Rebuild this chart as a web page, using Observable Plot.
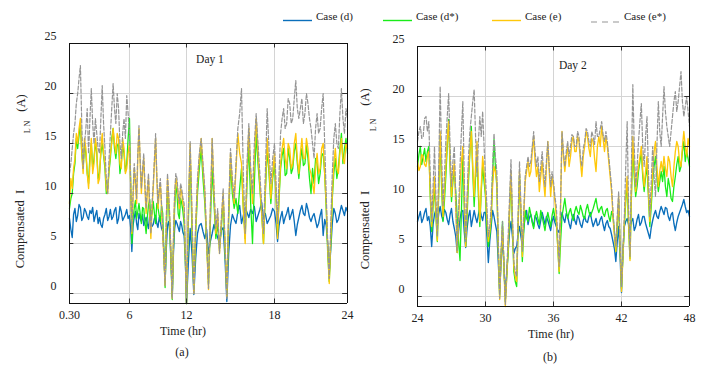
<!DOCTYPE html>
<html><head><meta charset="utf-8">
<script src="https://cdn.jsdelivr.net/npm/d3@7"></script>
<script src="https://cdn.jsdelivr.net/npm/@observablehq/plot@0.6"></script>
<style>
body{margin:0;background:#fff;}
#wrap{position:relative;width:705px;height:372px;overflow:hidden;background:#fff;font-family:"Liberation Serif","Times New Roman",serif;color:#222;}
.abs{position:absolute;white-space:nowrap;line-height:1;transform:translate(-50%,-50%);}
.rot{transform:translate(-50%,-50%) rotate(-90deg);}
.host{position:absolute;top:0;width:355px;height:372px;}
.host svg text{font-family:"Liberation Serif","Times New Roman",serif;}
</style></head><body>
<div id="wrap">
  <svg id="legend" width="705" height="30" style="position:absolute;left:0;top:0"></svg>
  <div class="host" id="p1" style="left:0"></div>
  <div class="host" id="p2" style="left:350px"></div>
  <div class="abs rot" style="left:20px;top:229px;font-size:12.5px">Compensated&nbsp;&nbsp;I</div>
  <div class="abs rot" style="left:28px;top:127px;font-size:8px">L N</div>
  <div class="abs rot" style="left:21px;top:103px;font-size:12.5px">(A)</div>
  <div class="abs rot" style="left:365px;top:230px;font-size:12.5px">Compensated&nbsp;&nbsp;I</div>
  <div class="abs rot" style="left:374px;top:125px;font-size:8px">L N</div>
  <div class="abs rot" style="left:365px;top:97px;font-size:12.5px">(A)</div>
  <div class="abs" style="left:183px;top:331px;font-size:12px">Time (hr)</div>
  <div class="abs" style="left:182px;top:352px;font-size:12px">(a)</div>
  <div class="abs" style="left:551px;top:334px;font-size:12px">Time (hr)</div>
  <div class="abs" style="left:550px;top:357px;font-size:12px">(b)</div>
</div>
<script>
// ---------- data (readings every 7.5 min) ----------
const seriesNames = ["Case (d)", "Case (d*)", "Case (e)", "Case (e*)"];
const day1Start = 0.5, day2Start = 24, sampleStep = 0.125; // hours

const day1_d = [
  7.5, 6.4, 5.6, 7.9, 8.5, 7.2, 7.8, 8.9, 8.6, 7.3, 7.6, 8.5, 8.2, 7.7, 7.4, 8.3,
  8.0, 8.6, 7.2, 7.8, 8.3, 7.0, 7.6, 6.9, 6.6, 7.5, 7.9, 8.5, 7.3, 7.7, 8.4, 7.4,
  7.7, 8.3, 8.6, 7.0, 7.5, 8.7, 8.2, 7.3, 7.6, 7.9, 8.4, 7.5, 7.8, 6.6, 4.2, 6.8,
  7.6, 8.2, 7.0, 6.4, 8.0, 7.5, 7.2, 7.9, 6.8, 7.2, 7.6, 7.0, 6.5, 7.8, 7.4, 6.7,
  6.9, 7.5, 7.8, 7.0, 6.6, 7.6, 7.2, 6.5, 6.2, 4.0, 1.2, 4.5, 6.8, 7.2, 6.0, 3.0,
  -0.3, 4.0, 6.5, 7.3, 7.0, 6.6, 6.2, 7.2, 6.8, 6.1, 5.8, 3.5, -1.0, 3.0, 6.5, 4.0,
  -0.1, 3.5, 6.0, 6.8, 7.0, 6.2, 5.5, 6.4, 4.0, 5.2, 6.0, 6.9, 6.2, 5.6, 5.0, 6.3,
  6.6, 3.5, -0.8, 4.0, 6.8, 7.9, 7.4, 7.0, 8.2, 8.8, 7.0, 7.8, 8.6, 8.1, 7.6, 8.4,
  8.0, 8.7, 7.2, 7.8, 8.4, 9.1, 7.5, 8.0, 7.0, 7.4, 7.8, 8.5, 8.2, 7.0, 5.2, 6.8,
  7.6, 8.2, 7.0, 7.6, 8.0, 8.6, 7.4, 7.9, 8.4, 7.2, 5.8, 6.9, 7.6, 8.3, 8.8, 8.0,
  7.8, 9.0, 8.4, 7.6, 7.2, 7.7, 8.0, 7.3, 6.6, 7.0, 7.8, 8.4, 5.8, 7.4, 6.8, 5.0,
  2.0, 4.5, 7.0, 8.5, 8.0, 7.1, 7.4, 8.1, 8.8, 8.3, 7.8, 8.6, 8.2];
const day1_dStar = [
  8.5, 9.5, 10.0, 12.0, 13.0, 15.5, 14.5, 15.8, 17.0, 14.0, 12.5, 15.0, 14.0, 12.0, 11.0, 13.8,
  15.0, 12.5, 13.5, 15.2, 14.0, 11.5, 12.0, 14.0, 15.0, 13.8, 12.5, 10.0, 10.5, 12.2, 13.5, 15.5,
  16.5, 14.5, 13.5, 14.8, 15.0, 12.0, 13.0, 14.8, 14.0, 12.2, 13.0, 15.5, 17.5, 11.0, 5.0, 7.5,
  8.5, 9.3, 7.5, 8.2, 9.0, 8.0, 7.0, 8.6, 8.5, 7.2, 6.0, 7.6, 8.8, 9.4, 7.5, 8.0,
  9.2, 8.0, 7.0, 9.0, 8.6, 7.8, 7.2, 8.8, 8.0, 4.0, 0.6, 6.0, 10.5, 8.8, 6.5, 3.0,
  -0.6, 4.5, 8.5, 10.8, 10.0, 8.0, 7.5, 9.5, 9.0, 8.2, 7.0, 3.5, -1.0, 7.0, 14.0, 6.0,
  0.5, 6.0, 10.0, 12.5, 14.5, 11.5, 9.0, 5.0, 1.0, 7.0, 12.5, 9.0, 5.5, 7.0, 4.5, 6.5,
  9.5, 4.5, 0.0, 7.5, 13.0, 10.0, 8.5, 9.5, 8.0, 10.5, 12.5, 8.5, 5.5, 11.0, 15.0, 9.0,
  5.0, 11.0, 16.0, 13.0, 10.5, 8.0, 5.0, 10.0, 14.5, 12.0, 9.0, 11.5, 13.0, 9.5, 6.0, 9.5,
  12.5, 13.8, 14.5, 11.8, 12.0, 14.5, 13.5, 12.0, 12.5, 14.2, 15.0, 13.0, 11.5, 13.2, 14.5, 12.8,
  13.0, 14.8, 13.5, 11.5, 10.0, 12.5, 11.0, 13.5, 13.0, 11.0, 12.0, 13.8, 14.0, 12.0, 8.5, 4.0,
  1.2, 5.0, 9.5, 12.0, 13.5, 11.5, 12.5, 14.5, 16.0, 13.0, 14.5, 15.5, 14.0];
const day1_e = [
  9.0, 11.5, 10.5, 12.5, 13.5, 16.0, 15.0, 16.5, 17.5, 14.0, 12.0, 15.5, 14.5, 12.0, 10.5, 13.0,
  15.5, 12.0, 13.0, 15.5, 14.5, 11.0, 11.5, 14.5, 16.0, 14.0, 13.0, 10.5, 10.0, 12.5, 14.0, 15.0,
  16.5, 15.0, 14.0, 16.0, 15.5, 13.0, 12.5, 15.5, 14.5, 12.0, 12.5, 14.0, 15.0, 11.0, 6.0, 9.5,
  12.5, 11.0, 9.0, 13.5, 16.5, 13.0, 10.0, 12.0, 13.5, 10.5, 8.0, 10.0, 11.5, 8.0, 5.5, 8.5,
  10.5, 13.0, 15.5, 11.5, 8.5, 10.0, 11.0, 8.5, 6.0, 3.5, 0.8, 7.0, 11.5, 9.5, 7.0, 3.5,
  -0.5, 5.0, 9.5, 11.5, 11.0, 9.5, 8.5, 10.5, 10.0, 9.0, 8.5, 4.0, -1.0, 8.0, 15.0, 7.5,
  0.0, 6.5, 11.0, 13.5, 15.5, 12.5, 10.0, 5.0, 0.4, 8.0, 15.5, 10.0, 6.0, 8.0, 4.0, 7.0,
  10.0, 5.0, -0.3, 8.0, 14.0, 11.0, 9.0, 12.5, 16.0, 14.0, 13.0, 8.5, 5.0, 12.0, 16.5, 12.0,
  9.0, 13.5, 17.5, 14.0, 11.0, 8.0, 5.0, 10.5, 15.5, 12.5, 9.5, 12.0, 14.0, 10.0, 5.5, 10.0,
  13.0, 14.5, 15.5, 13.5, 12.5, 15.0, 14.5, 12.5, 13.0, 15.0, 16.0, 13.5, 12.0, 14.0, 15.5, 13.5,
  13.5, 15.5, 14.5, 12.5, 12.0, 11.0, 10.0, 12.5, 14.0, 12.0, 12.5, 14.5, 15.0, 12.0, 9.0, 4.5,
  1.0, 5.5, 10.0, 13.0, 14.5, 12.5, 12.0, 14.0, 15.5, 13.5, 13.0, 15.0, 14.5];
const day1_eStar = [
  12.0, 13.0, 14.5, 16.0, 17.0, 19.0, 20.0, 21.5, 22.8, 17.0, 12.5, 15.0, 16.5, 18.5, 14.0, 17.5,
  20.5, 17.0, 15.0, 17.5, 16.0, 14.5, 14.0, 17.5, 20.8, 17.0, 14.5, 11.5, 10.0, 13.5, 16.0, 18.5,
  21.0, 18.5, 17.0, 20.0, 18.5, 15.0, 13.5, 16.0, 17.5, 15.5, 19.8, 18.0, 16.0, 11.0, 6.2, 10.0,
  13.0, 11.5, 9.5, 14.0, 16.8, 13.5, 10.5, 12.5, 14.0, 11.0, 8.5, 10.5, 12.0, 9.0, 6.0, 9.0,
  11.0, 13.5, 16.0, 12.0, 9.0, 10.5, 11.5, 9.0, 6.5, 3.5, 0.8, 7.5, 12.0, 10.0, 7.5, 3.5,
  -0.5, 5.5, 10.0, 12.0, 11.5, 10.0, 9.0, 11.0, 10.5, 9.5, 9.0, 4.0, -1.0, 8.0, 15.2, 8.0,
  0.0, 7.0, 11.5, 14.0, 15.5, 13.0, 10.5, 5.5, 0.5, 8.5, 15.5, 10.5, 6.5, 8.5, 4.0, 7.5,
  10.5, 5.0, -0.5, 8.5, 14.5, 11.5, 9.5, 13.0, 16.5, 18.0, 20.5, 12.0, 6.0, 13.0, 17.0, 12.5,
  10.0, 15.0, 18.0, 15.0, 12.0, 9.0, 6.0, 12.0, 18.5, 14.5, 11.0, 13.5, 15.0, 11.0, 7.0, 12.0,
  16.0, 17.5, 18.5, 16.5, 17.0, 19.5, 19.0, 17.0, 17.5, 19.5, 21.3, 18.5, 17.5, 18.5, 19.5, 17.0,
  18.0, 20.0, 19.0, 17.5, 16.5, 15.0, 13.5, 16.5, 18.0, 16.0, 16.5, 18.5, 20.0, 15.0, 10.0, 5.0,
  1.5, 7.0, 12.0, 15.5, 17.0, 15.0, 14.5, 18.0, 20.5, 17.5, 16.0, 18.5, 17.5];

const day2_d = [
  7.5, 8.0, 8.5, 7.4, 7.8, 8.4, 8.8, 7.6, 8.0, 7.0, 5.0, 7.2, 8.2, 8.7, 7.0, 8.3,
  9.0, 8.1, 7.6, 8.7, 8.4, 7.7, 7.2, 8.2, 8.8, 7.5, 6.8, 6.0, 4.4, 6.5, 7.8, 8.5,
  8.6, 6.5, 4.9, 6.8, 8.0, 8.6, 7.0, 7.8, 8.6, 7.9, 7.4, 8.2, 8.8, 8.1, 7.6, 8.4,
  8.4, 6.0, 3.4, 5.5, 7.0, 8.6, 8.0, 7.2, 6.5, 3.5, 0.5, 3.5, 6.0, 3.0, 0.0, 2.5,
  4.5, 6.5, 7.5, 6.0, 4.3, 4.8, 5.0, 6.2, 7.0, 6.0, 5.0, 6.8, 8.0, 8.6, 7.2, 7.9,
  8.2, 7.5, 7.0, 8.1, 7.8, 7.2, 6.8, 7.6, 8.4, 7.8, 7.2, 8.0, 7.6, 7.1, 6.6, 7.5,
  8.0, 7.4, 7.0, 6.6, 6.4, 7.5, 8.4, 7.8, 7.4, 8.3, 8.0, 7.3, 6.8, 7.7, 8.2, 7.6,
  7.2, 8.1, 7.8, 7.2, 6.9, 7.6, 8.0, 7.5, 7.4, 8.0, 8.4, 7.6, 7.0, 7.4, 7.8, 7.1,
  7.2, 7.7, 8.0, 7.2, 6.6, 7.3, 7.6, 7.0, 6.8, 6.2, 5.5, 4.8, 3.5, 5.5, 7.0, 4.0,
  0.4, 4.5, 7.0, 7.5, 7.8, 7.2, 6.8, 7.5, 7.8, 6.6, 7.0, 7.7, 8.2, 7.1, 7.4, 8.0,
  8.0, 7.3, 6.8, 6.3, 5.8, 6.9, 7.6, 8.2, 8.6, 8.0, 7.8, 8.5, 9.0, 8.6, 8.2, 8.9,
  8.8, 8.0, 7.6, 8.2, 8.4, 7.3, 6.6, 7.4, 8.0, 8.4, 8.8, 9.2, 9.7, 9.0, 8.4, 8.6,
  8.0];
const day2_dStar = [
  13.0, 14.2, 15.0, 13.2, 14.0, 14.8, 13.5, 14.5, 15.0, 10.0, 6.5, 9.0, 11.0, 8.0, 5.5, 10.5,
  16.0, 11.0, 7.5, 9.5, 12.0, 15.0, 17.7, 13.0, 9.5, 11.5, 12.5, 10.5, 8.0, 5.5, 3.6, 8.5,
  14.0, 9.0, 5.0, 8.0, 11.5, 14.5, 17.0, 12.5, 9.0, 12.0, 14.5, 10.0, 7.0, 10.5, 13.0, 11.5,
  10.0, 7.0, 5.0, 6.0, 7.5, 12.0, 15.7, 13.0, 11.0, 5.0, 0.0, 4.0, 7.5, 3.0, -0.5, 2.0,
  4.5, 8.5, 12.0, 7.0, 2.5, 1.5, 1.0, 7.0, 12.0, 8.0, 3.5, 6.5, 8.6, 7.8, 7.5, 8.9,
  8.2, 7.4, 6.8, 7.9, 8.5, 7.8, 7.2, 8.6, 8.0, 7.3, 6.6, 7.7, 8.4, 7.7, 7.0, 8.1,
  8.8, 7.9, 7.4, 5.0, 2.3, 5.5, 8.0, 8.9, 9.8, 8.6, 7.8, 8.4, 8.8, 8.1, 7.6, 8.5,
  9.0, 8.5, 8.2, 9.1, 8.6, 8.0, 7.8, 8.7, 9.2, 8.5, 8.0, 8.4, 8.8, 9.3, 9.8, 8.9,
  8.4, 8.8, 9.0, 8.3, 8.0, 8.6, 8.8, 8.0, 7.5, 8.5, 8.0, 6.5, 4.5, 7.0, 9.5, 5.0,
  0.8, 4.0, 7.0, 9.5, 11.5, 7.0, 3.8, 10.0, 15.0, 12.0, 10.0, 11.0, 12.5, 13.5, 14.5, 12.0,
  10.5, 12.0, 13.0, 10.0, 7.0, 9.0, 11.5, 13.0, 14.0, 12.0, 10.5, 11.5, 12.5, 11.5, 13.0, 11.0,
  10.0, 11.8, 11.0, 9.8, 9.5, 11.0, 12.0, 13.2, 14.0, 12.5, 13.0, 14.5, 15.5, 13.5, 14.5, 13.8,
  13.0];
const day2_e = [
  13.5, 12.6, 13.0, 14.2, 14.0, 13.2, 13.0, 14.0, 14.5, 10.5, 7.0, 9.5, 12.0, 8.5, 5.6, 11.0,
  16.5, 12.0, 8.0, 10.5, 13.0, 15.5, 17.5, 13.5, 10.0, 12.0, 13.5, 9.0, 4.4, 7.5, 11.0, 13.5,
  15.0, 10.0, 5.0, 9.0, 12.5, 14.5, 16.5, 13.0, 10.0, 13.0, 15.5, 11.0, 7.5, 11.0, 14.0, 12.5,
  10.5, 8.0, 5.5, 6.5, 8.0, 11.0, 13.0, 12.5, 11.5, 5.0, -0.3, 4.0, 7.0, 3.0, -1.0, 2.0,
  5.0, 9.0, 12.5, 7.5, 3.0, 2.0, 1.5, 7.0, 12.5, 8.5, 4.0, 8.0, 11.5, 12.5, 13.5, 12.0,
  12.5, 14.5, 16.0, 13.5, 12.0, 13.0, 10.5, 12.0, 13.5, 11.5, 10.0, 13.0, 15.5, 12.5, 10.0, 12.0,
  11.0, 9.5, 8.0, 5.0, 2.5, 9.0, 16.5, 14.0, 12.5, 14.0, 15.0, 13.0, 14.0, 15.5, 16.0, 14.5,
  14.5, 16.0, 15.5, 13.5, 12.0, 14.0, 15.0, 16.5, 16.0, 14.8, 14.0, 15.8, 15.5, 13.8, 12.5, 15.0,
  16.0, 15.0, 17.0, 15.8, 14.5, 16.0, 15.0, 13.5, 12.0, 10.5, 8.0, 6.0, 4.5, 7.5, 10.0, 5.0,
  0.5, 4.0, 7.5, 10.0, 12.0, 7.5, 3.6, 10.5, 16.0, 13.0, 10.5, 12.0, 13.0, 14.0, 15.0, 12.5,
  11.0, 12.5, 14.0, 10.5, 7.5, 10.0, 12.5, 14.5, 15.5, 13.0, 11.0, 12.5, 13.5, 12.5, 14.0, 12.8,
  12.0, 14.0, 13.5, 12.0, 11.0, 13.0, 14.5, 15.5, 15.0, 13.5, 13.0, 15.0, 16.5, 15.0, 14.0, 15.8,
  15.0];
const day2_eStar = [
  15.5, 16.5, 17.0, 15.8, 16.0, 17.8, 18.0, 16.5, 17.5, 12.0, 7.5, 11.0, 15.0, 10.0, 6.0, 13.0,
  21.0, 14.5, 9.0, 12.0, 15.5, 18.0, 20.3, 15.0, 11.0, 13.5, 15.0, 10.0, 4.6, 8.5, 13.0, 16.5,
  19.5, 12.0, 5.5, 10.0, 14.0, 16.5, 18.0, 19.5, 20.7, 16.0, 12.0, 15.5, 18.0, 16.0, 18.5, 15.0,
  12.0, 9.0, 6.0, 7.0, 9.0, 13.0, 16.3, 14.0, 12.5, 5.5, -0.2, 4.5, 7.5, 3.5, -0.8, 2.5,
  6.0, 10.0, 13.7, 8.0, 3.5, 2.5, 2.0, 8.0, 13.5, 9.0, 4.5, 8.5, 12.0, 13.0, 14.0, 13.0,
  13.5, 15.0, 16.5, 14.5, 13.0, 14.0, 11.5, 13.0, 14.5, 12.5, 11.0, 13.5, 15.5, 13.0, 11.0, 12.5,
  11.5, 10.0, 9.0, 6.0, 3.0, 9.5, 16.5, 14.5, 13.0, 14.5, 15.5, 14.0, 15.0, 16.2, 16.0, 15.0,
  15.0, 16.5, 16.0, 14.0, 13.0, 14.8, 15.5, 16.8, 16.5, 15.5, 15.0, 16.5, 16.0, 15.2, 17.5, 16.0,
  16.0, 16.8, 17.5, 16.2, 15.5, 16.5, 15.5, 14.0, 12.5, 11.0, 8.5, 6.5, 5.0, 8.0, 10.5, 5.5,
  1.0, 4.5, 8.0, 13.0, 17.5, 9.0, 4.0, 13.0, 21.2, 15.0, 11.0, 13.0, 15.5, 17.5, 19.3, 15.0,
  13.0, 16.0, 18.0, 12.5, 8.0, 11.5, 15.0, 12.0, 10.0, 15.0, 19.5, 16.5, 15.0, 18.0, 21.0, 18.5,
  17.0, 16.0, 15.0, 16.5, 18.0, 19.5, 20.5, 18.5, 19.5, 21.0, 22.5, 19.5, 18.0, 19.0, 20.0, 18.5,
  17.0];

const yTicks = [0, 5, 10, 15, 20, 25];
const day1XTicks = [0.5, 6, 12, 18, 24];
const day1XLabels = ["0.30", "6", "12", "18", "24"];
// where the Day 1 tick labels sit along the (uneven) printed axis, in evenly spaced axis hours
const day1TickPlacement = [0.5, 5.57, 10.39, 17.83, 24];
const day2XTicks = [24, 30, 36, 42, 48];
const day2XLabels = ["24", "30", "36", "42", "48"];
const panelTitles = ["Day 1", "Day 2"];

// ---------- styles ----------
const colors = ["#0a6fbb", "#19ec19", "#ffc80a", "#959595"];
const widths = [1.35, 1.3, 1.35, 1.2];
const dashes = [null, null, null, "4,2"];
const FONT = '"Liberation Serif","Times New Roman",serif';

function toRows(start, arr) {
  return arr.map((v, i) => ({t: start + i * sampleStep, v}));
}

function panel(opts) {
  const {series, start, xTicks, xLabels, xDomain, xTransform, margins, title, titleX, titleY, tickDx, tickDy} = opts;
  const xMin = xDomain[0], xMax = xDomain[1];
  const marks = [
    Plot.ruleY(yTicks.filter(d => d < 25), {stroke: "#d4d4d4", strokeWidth: 1}),
    Plot.ruleX(xTicks.slice(1, -1), {stroke: "#d4d4d4", strokeWidth: 1})
  ];
  series.forEach((arr, k) => {
    marks.push(Plot.line(toRows(start, arr), {
      x: "t", y: "v", stroke: colors[k], strokeWidth: widths[k],
      strokeDasharray: dashes[k] || undefined
    }));
  });
  marks.push(
    Plot.ruleY(yTicks, {x1: xMax - tickDx, x2: xMax, stroke: "#333"}),
    Plot.ruleY(yTicks, {x1: xMin, x2: xMin + tickDx, stroke: "#333"}),
    Plot.ruleX(xTicks, {y1: -1, y2: -1 + tickDy, stroke: "#333"}),
    Plot.ruleX(xTicks, {y1: 25 - tickDy, y2: 25, stroke: "#333"}),
    Plot.ruleX([xMin, xMax], {y1: -1, y2: 25, stroke: "#111"}),
    Plot.ruleY([-1, 25], {x1: xMin, x2: xMax, stroke: "#111"}),
    Plot.text(yTicks, {x: xMin, y: d => d, text: d => String(d), dx: -13, dy: -7, textAnchor: "end", fontSize: 12, fontFamily: FONT, fill: "#222"}),
    Plot.text(xTicks, {x: d => d, y: -1, text: (d, i) => xLabels[i], dy: 12, fontSize: 12, fontFamily: FONT, fill: "#222"}),
    Plot.text([title], {x: titleX, y: titleY, text: d => d, fontSize: 11.5, fontFamily: FONT, fill: "#222"})
  );
  const xOpt = {domain: xDomain, axis: null};
  if (xTransform) xOpt.transform = xTransform;
  return Plot.plot({
    width: 355, height: 372,
    marginLeft: margins[0], marginRight: margins[1], marginTop: margins[2], marginBottom: margins[3],
    style: {background: "transparent", overflow: "visible", fontFamily: FONT, maxWidth: "none"},
    x: xOpt,
    y: {domain: [-1, 25], axis: null},
    marks
  });
}

const day1Warp = d3.scaleLinear().domain(day1XTicks).range(day1TickPlacement);

document.getElementById("p1").appendChild(panel({
  series: [day1_d, day1_dStar, day1_e, day1_eStar], start: day1Start,
  xTicks: day1XTicks, xLabels: day1XLabels,
  xDomain: [0.5, 24], xTransform: t => day1Warp(t),
  margins: [69, 8, 43, 69], title: panelTitles[0], titleX: 13.6, titleY: 23.4,
  tickDx: 0.4, tickDy: 0.45
}));
document.getElementById("p2").appendChild(panel({
  series: [day2_d, day2_dStar, day2_e, day2_eStar], start: day2Start,
  xTicks: day2XTicks, xLabels: day2XLabels,
  xDomain: [24, 48], xTransform: null,
  margins: [67, 16, 46, 66], title: panelTitles[1], titleX: 37.7, titleY: 23.1,
  tickDx: 0.42, tickDy: 0.45
}));

// ---------- legend ----------
const legendX = [283, 383, 492, 591];
const leg = d3.select("#legend");
seriesNames.forEach((name, k) => {
  const x0 = legendX[k];
  leg.append("line").attr("x1", x0).attr("x2", x0 + 29)
    .attr("y1", k === 3 ? 22 : 20.5).attr("y2", k === 3 ? 22 : 20.5)
    .attr("stroke", colors[k]).attr("stroke-width", k === 3 ? 1 : 1.4)
    .attr("stroke-dasharray", k === 3 ? "6,5" : null);
  leg.append("text").attr("x", x0 + 33).attr("y", 20)
    .style("font-family", FONT).attr("font-size", 11).attr("fill", "#222").text(name);
});
</script>
</body></html>
